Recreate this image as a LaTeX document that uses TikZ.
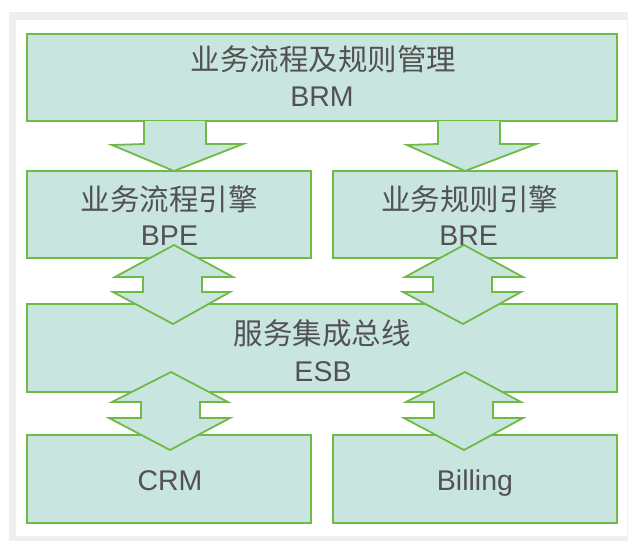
\documentclass[tikz,border=0pt]{standalone}
\usepackage{fontspec}
\setmainfont{Liberation Sans}
\newfontfamily\cjkfont{Noto Sans CJK SC}
\definecolor{boxfill}{HTML}{C9E5DF}
\definecolor{boxline}{HTML}{6EBA45}
\definecolor{txtgray}{HTML}{525252}
\definecolor{framegray}{HTML}{EFEFEF}
\begin{document}
\begin{tikzpicture}[x=1pt,y=-1pt,
  blk/.style={draw=boxline, fill=boxfill, line width=2pt, inner sep=0pt},
  cntext/.style={font=\cjkfont\fontsize{29.5}{29.5}\selectfont, text=txtgray, inner sep=0pt},
  entext/.style={font=\fontsize{28.5}{28.5}\selectfont, text=txtgray, inner sep=0pt, anchor=base},
  bigarrow/.style={fill=boxfill, draw=boxline, line width=1.8pt, line join=miter},
  arrowfill/.style={fill=boxfill},
  arrowline/.style={draw=boxline, line width=1.8pt, line join=miter}]
\useasboundingbox (0,0) rectangle (628,541);
% frame
\fill[framegray] (9,12) rectangle (628,541);
\fill[white] (16,20) rectangle (627,536);

% boxes
\node[blk, minimum width=590pt, minimum height=87pt] (brm) at (322,77.5) {};
\node[blk, minimum width=284pt, minimum height=87pt] (bpe) at (169,214.5) {};
\node[blk, minimum width=284pt, minimum height=87pt] (bre) at (475,214.5) {};
\node[blk, minimum width=590pt, minimum height=87.5pt] (esb) at (322,347.75) {};
\node[blk, minimum width=284pt, minimum height=88pt] (crm) at (169,478.6) {};
\node[blk, minimum width=284pt, minimum height=88pt] (billing) at (475,478.6) {};

% block arrows from BRM down to the two engines
\fill[arrowfill] (144,121) -- (144,144) -- (112,145) -- (174,171) -- (243,144) -- (206,144) -- (206,121) -- cycle;
\draw[arrowline] (144,121) -- (144,144) -- (112,145) -- (174,171) -- (243,144) -- (206,144) -- (206,121);
\fill[arrowfill] (438,121) -- (438,144) -- (407,145) -- (465,171) -- (536,144) -- (500,144) -- (500,121) -- cycle;
\draw[arrowline] (438,121) -- (438,144) -- (407,145) -- (465,171) -- (536,144) -- (500,144) -- (500,121);

% two-way arrows between the engines and the ESB
\draw[bigarrow] (174,245) -- (233,277) -- (202,277) -- (202,292) -- (230,292) -- (173,324)
  -- (113,292) -- (143,292) -- (143,277) -- (115,277) -- cycle;
\draw[bigarrow] (464,245) -- (523,277) -- (492,277) -- (492,292) -- (521,292) -- (463,324)
  -- (403,292) -- (433,292) -- (433,277) -- (405,277) -- cycle;

% two-way arrows between the ESB and the systems
\draw[bigarrow] (171,372) -- (228,402) -- (200,402) -- (200,418) -- (230,418) -- (170,450)
  -- (109,418) -- (141,418) -- (141,402) -- (112,402) -- cycle;
\draw[bigarrow] (465,372) -- (521,402) -- (493,402) -- (493,418) -- (523,418) -- (464,450)
  -- (404,418) -- (434,418) -- (434,402) -- (406,402) -- cycle;

% labels
\node[cntext] (brmcn) at (323.5,59.5) {业务流程及规则管理};
\node[entext] (brmen) at (322,106) {BRM};
\node[cntext] (bpecn) at (169,199.5) {业务流程引擎};
\node[entext] (bpeen) at (169.5,245) {BPE};
\node[cntext] (brecn) at (469.5,199.5) {业务规则引擎};
\node[entext] (breen) at (468.6,245) {BRE};
\node[cntext] (esbcn) at (322,333) {服务集成总线};
\node[entext] (esben) at (323,381.7) {ESB};
\node[entext] (crmen) at (170,490.7) {CRM};
\node[entext] (billingen) at (475,490.7) {Billing};
\end{tikzpicture}
\end{document}
